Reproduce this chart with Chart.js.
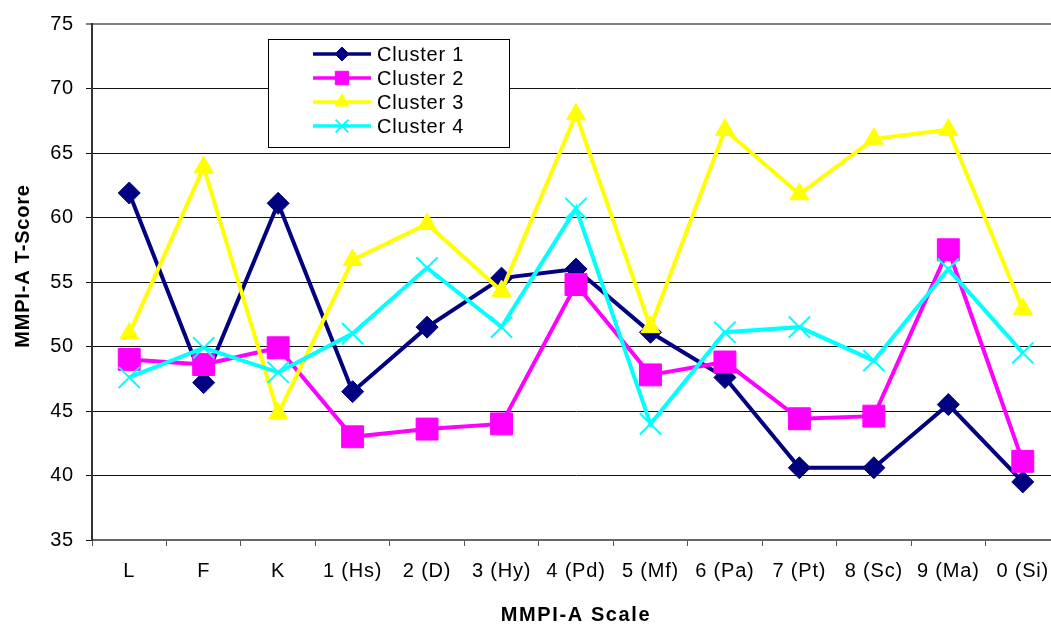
<!DOCTYPE html>
<html>
<head>
<meta charset="utf-8">
<title>MMPI-A cluster profiles</title>
<script src="https://cdn.jsdelivr.net/npm/chart.js@4/dist/chart.umd.min.js"></script>
<style>
  html, body { margin: 0; padding: 0; background: #fff; overflow: hidden; }
  #wrap { width: 1080px; height: 626px; }
</style>
</head>
<body>
<div id="wrap"><canvas id="chart" width="1080" height="626"></canvas></div>
<script>
// MMPI-A scales along the x axis
const scales = ['L', 'F', 'K', '1 (Hs)', '2 (D)', '3 (Hy)', '4 (Pd)', '5 (Mf)', '6 (Pa)', '7 (Pt)', '8 (Sc)', '9 (Ma)', '0 (Si)'];

// Mean T-scores per cluster
const cluster1 = [61.9, 47.2, 61.1, 46.5, 51.5, 55.3, 56.0, 51.1, 47.6, 40.6, 40.6, 45.5, 39.5];
const cluster2 = [49.0, 48.6, 49.9, 43.0, 43.6, 44.0, 54.8, 47.8, 48.8, 44.4, 44.6, 57.5, 41.1];
const cluster3 = [51.0, 63.9, 44.8, 56.7, 59.5, 54.3, 68.0, 51.5, 66.8, 61.8, 66.1, 66.8, 52.9];
const cluster4 = [47.6, 49.9, 48.0, 51.0, 56.1, 51.5, 60.7, 44.0, 51.1, 51.5, 48.9, 56.0, 49.5];

const seriesNames = ['Cluster 1', 'Cluster 2', 'Cluster 3', 'Cluster 4'];

// Y axis range
const yMin = 35, yMax = 75, yStep = 5;

const FONT = '"Liberation Sans", Arial, Helvetica, sans-serif';
Chart.defaults.font.family = FONT;
Chart.defaults.color = '#000';

const NAVY = '#000080', MAGENTA = '#FF00FF', YELLOW = '#FFFF00', CYAN = '#00FFFF';

// Marker sizes used in the boxed legend
const legendMarkers = [
  { pointStyle: 'rectRot', radius: 7, borderWidth: 1 },
  { pointStyle: 'rect', radius: 9.5, borderWidth: 1 },
  { pointStyle: 'triangle', radius: 8, borderWidth: 1 },
  { pointStyle: 'crossRot', radius: 9, borderWidth: 2 }
];

// Slightly wider text spacing for all labels
const spacingPlugin = {
  id: 'textSpacing',
  beforeDraw(chart) { chart.ctx.letterSpacing = '0.8px'; }
};

// Boxed legend in the upper-left part of the plot
const boxLegend = {
  id: 'boxLegend',
  afterDraw(chart) {
    const ctx = chart.ctx;
    ctx.save();
    ctx.fillStyle = '#fff';
    ctx.fillRect(268.5, 39.5, 241, 108);
    ctx.strokeStyle = '#000';
    ctx.lineWidth = 1;
    ctx.strokeRect(268.5, 39.5, 241, 108);
    chart.data.datasets.forEach((ds, i) => {
      const y = 54 + i * 24;
      ctx.strokeStyle = ds.borderColor;
      ctx.lineWidth = 3.5;
      ctx.beginPath();
      ctx.moveTo(313, y);
      ctx.lineTo(371, y);
      ctx.stroke();
      const m = legendMarkers[i];
      ctx.fillStyle = ds.pointBackgroundColor;
      ctx.strokeStyle = ds.pointBorderColor;
      ctx.lineWidth = m.borderWidth;
      Chart.helpers.drawPoint(ctx, { pointStyle: m.pointStyle, radius: m.radius, borderWidth: m.borderWidth, rotation: 0 }, 342, y);
      ctx.fillStyle = '#000';
      ctx.font = '20px ' + FONT;
      ctx.textAlign = 'left';
      ctx.textBaseline = 'middle';
      ctx.fillText(ds.label, 377, y + 1);
    });
    ctx.restore();
  }
};

// Axis titles
const axisTitles = {
  id: 'axisTitles',
  afterDraw(chart) {
    const ctx = chart.ctx;
    ctx.save();
    ctx.fillStyle = '#000';
    ctx.font = 'bold 20px ' + FONT;
    ctx.textAlign = 'center';
    ctx.textBaseline = 'middle';
    ctx.letterSpacing = '1.6px';
    ctx.fillText('MMPI-A Scale', 576, 615);
    ctx.letterSpacing = '0.8px';
    ctx.translate(23, 266);
    ctx.rotate(-Math.PI / 2);
    ctx.fillText('MMPI-A T-Score', 0, 0);
    ctx.restore();
  }
};

new Chart(document.getElementById('chart'), {
  type: 'line',
  data: {
    labels: scales,
    datasets: [
      { label: seriesNames[0], data: cluster1, borderColor: NAVY, backgroundColor: NAVY,
        pointBackgroundColor: NAVY, pointBorderColor: NAVY, pointStyle: 'rectRot', pointRadius: 11, pointBorderWidth: 1, order: 4 },
      { label: seriesNames[1], data: cluster2, borderColor: MAGENTA, backgroundColor: MAGENTA,
        pointBackgroundColor: MAGENTA, pointBorderColor: MAGENTA, pointStyle: 'rect', pointRadius: 15.5, pointBorderWidth: 1, order: 3 },
      { label: seriesNames[2], data: cluster3, borderColor: YELLOW, backgroundColor: YELLOW,
        pointBackgroundColor: YELLOW, pointBorderColor: YELLOW, pointStyle: 'triangle', pointRadius: 11, pointBorderWidth: 1, order: 2 },
      { label: seriesNames[3], data: cluster4, borderColor: CYAN, backgroundColor: CYAN,
        pointBackgroundColor: CYAN, pointBorderColor: CYAN, pointStyle: 'crossRot', pointRadius: 15, pointBorderWidth: 2, order: 1 }
    ]
  },
  options: {
    responsive: false,
    animation: false,
    devicePixelRatio: 1,
    layout: { padding: { left: 0, right: 20, top: 22, bottom: 0 } },
    elements: {
      line: { tension: 0, borderWidth: 4, fill: false },
      point: { hoverRadius: 11 }
    },
    plugins: {
      legend: { display: false },
      tooltip: { enabled: false }
    },
    scales: {
      x: {
        offset: true,
        grid: { offset: true, drawOnChartArea: false, drawTicks: true, tickLength: 6, color: '#555', lineWidth: 1 },
        border: { color: '#666', width: 2 },
        ticks: { font: { size: 20 }, padding: 13, color: '#000', maxRotation: 0, autoSkip: false },
        afterFit(s) { s.height = 86; }
      },
      y: {
        min: yMin, max: yMax,
        grid: {
          tickLength: 6,
          color: (c) => (c.tick && c.tick.value === yMax) ? '#808080' : '#111',
          lineWidth: (c) => (c.tick && c.tick.value === yMax) ? 2 : 1
        },
        border: { color: '#333', width: 2 },
        ticks: { stepSize: yStep, font: { size: 20 }, padding: 12, color: '#000' },
        afterFit(s) { s.width = 92; }
      }
    }
  },
  plugins: [spacingPlugin, boxLegend, axisTitles]
});
</script>
</body>
</html>
